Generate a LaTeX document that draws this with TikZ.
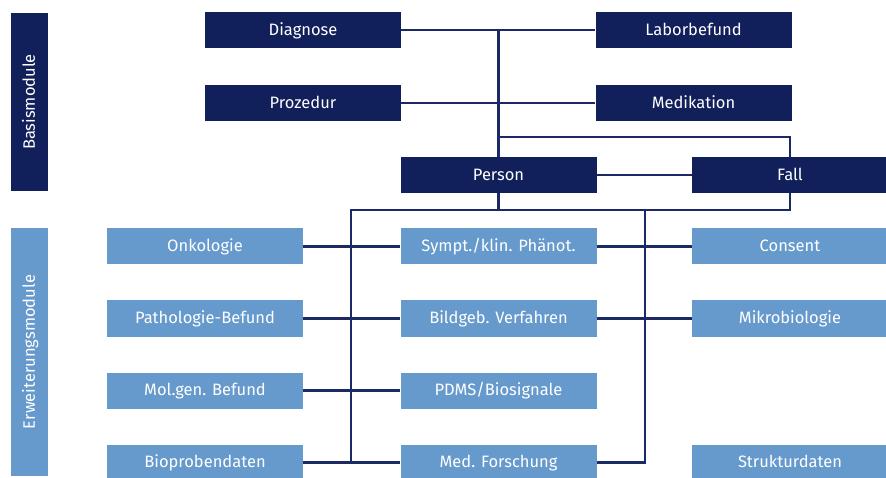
\documentclass[tikz,border=0pt]{standalone}
\usepackage{fontspec}
\setmainfont{Fira Sans}
\definecolor{navy}{HTML}{11205A}
\definecolor{lightb}{HTML}{6699CC}
\definecolor{linec}{HTML}{1B2A66}
\tikzset{boxfont/.style={font=\fontsize{16.5}{19}\selectfont,text height=10.5pt,text depth=0pt}}
\begin{document}
\begin{tikzpicture}[x=1pt,y=-1pt,
  base/.style={fill=navy,text=white,minimum width=196pt,minimum height=36pt,inner sep=0pt,boxfont},
  ext/.style={fill=lightb,text=white,minimum width=196pt,minimum height=36pt,inner sep=0pt,boxfont},
  conn/.style={draw=linec,line width=2.2pt}]
\useasboundingbox (0,0) rectangle (886,478);
% side bars
\node[fill=navy,text=white,minimum width=178pt,minimum height=37pt,inner sep=0pt,rotate=90,boxfont] (bm) at (29.5,102) {Basismodule};
\node[fill=lightb,text=white,minimum width=248pt,minimum height=37pt,inner sep=0pt,rotate=90,boxfont] (em) at (29.5,352) {Erweiterungsmodule};
% base modules
\node[base] (diag) at (303,30) {Diagnose};
\node[base] (labor) at (693.5,30) {Laborbefund};
\node[base] (proz) at (303,103) {Prozedur};
\node[base] (medi) at (693.5,103) {Medikation};
\node[base] (person) at (498.5,175) {Person};
\node[base] (fall) at (790,175) {Fall};
% extension modules
\node[ext] (onko) at (205,246.5) {Onkologie};
\node[ext] (sympt) at (498.5,246.5) {Sympt./klin. Phänot.};
\node[ext] (consent) at (790,246.5) {Consent};
\node[ext] (patho) at (205,318.5) {Pathologie-Befund};
\node[ext] (bild) at (498.5,318.5) {Bildgeb. Verfahren};
\node[ext] (mikro) at (790,318.5) {Mikrobiologie};
\node[ext] (molgen) at (205,390.5) {Mol.gen. Befund};
\node[ext] (pdms) at (498.5,390.5) {PDMS/Biosignale};
\node[ext] (biop) at (205,462.5) {Bioprobendaten};
\node[ext] (medf) at (498.5,462.5) {Med. Forschung};
\node[ext] (struk) at (790,462.5) {Strukturdaten};
% junction coordinates
\coordinate (tA) at (498.5,137);
\coordinate (bL) at (351,210);
\coordinate (bR) at (645,210);
\coordinate (bM) at (498.5,210);
\coordinate (vL) at (351,462.5);
\coordinate (vR) at (645,462.5);
% top connectors
\draw[conn] (diag.east) -- (labor.west);
\draw[conn] (proz.east) -- (medi.west);
\draw[conn] (diag.east -| person.north) -- (person.north);
\draw[conn] (tA) -| (fall.north);
\draw[conn] (person.east) -- (fall.west);
% bottom bus
\draw[conn] (person.south) -- (bM);
\draw[conn] (fall.south) |- (bL) -- (vL);
\draw[conn] (bR) -- (vR) -- (medf.east);
% row connectors
\draw[conn] (onko.east) -- (sympt.west);
\draw[conn] (sympt.east) -- (consent.west);
\draw[conn] (patho.east) -- (bild.west);
\draw[conn] (bild.east) -- (mikro.west);
\draw[conn] (molgen.east) -- (pdms.west);
\draw[conn] (biop.east) -- (medf.west);
\end{tikzpicture}
\end{document}
